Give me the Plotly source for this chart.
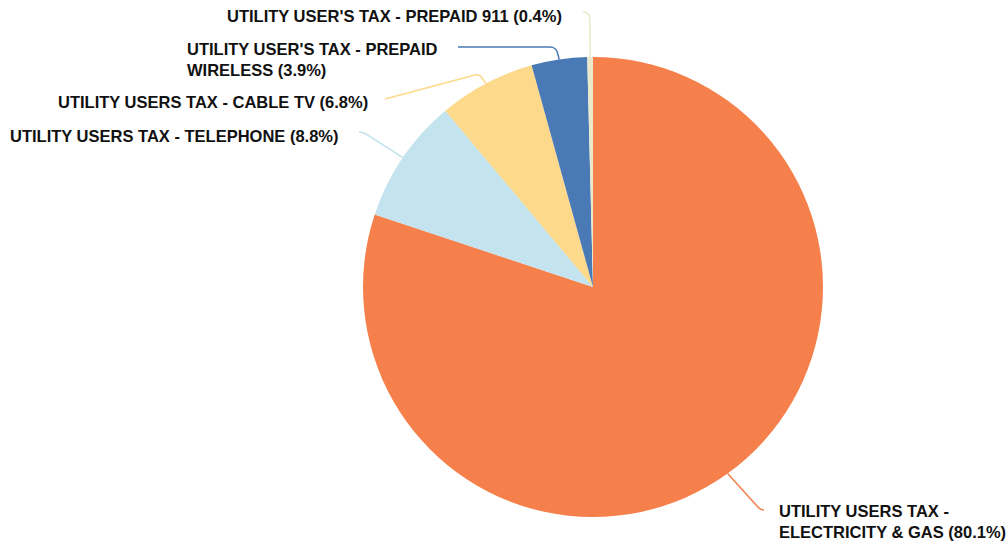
import math
import plotly.graph_objects as go

# Utility users tax revenue shares (%)
categories = [
    "UTILITY USERS TAX -<br>ELECTRICITY & GAS",
    "UTILITY USERS TAX - TELEPHONE",
    "UTILITY USERS TAX - CABLE TV",
    "UTILITY USER'S TAX - PREPAID<br>WIRELESS",
    "UTILITY USER'S TAX - PREPAID 911",
]
shares = [80.1, 8.8, 6.8, 3.9, 0.4]
colors = ["#F5804B", "#C3E3EE", "#FDD98B", "#4A7AB6", "#EAE9CB"]

W, H = 1008, 548
CX, CY, R = 593, 287, 230  # pie centre and radius in pixels

fig = go.Figure()
fig.add_trace(go.Pie(
    labels=categories,
    values=shares,
    sort=False,
    direction="clockwise",
    rotation=0,
    marker=dict(colors=colors, line=dict(width=0)),
    textinfo="none",
    hoverinfo="label+percent",
    showlegend=False,
    domain=dict(x=[(CX - R) / W, (CX + R) / W],
                y=[(H - CY - R) / H, (H - CY + R) / H]),
))

# Pixel-space overlay axes for the leader lines and labels
fig.update_layout(
    xaxis=dict(range=[0, W], visible=False, fixedrange=True),
    yaxis=dict(range=[H, 0], visible=False, fixedrange=True),
)

# Mid-angle edge point of every slice
total = sum(shares)
edges = []
cum = 0.0
for v in shares:
    mid = (cum + v / 2) / total * 2 * math.pi
    edges.append((CX + R * math.sin(mid), CY - R * math.cos(mid)))
    cum += v

# Leader line routes: (bend start, bend control, bend end, line end), label anchor
routes = [
    ((757, 506), (760, 510), (764, 510), None, (777, 521, "left")),
    ((366, 134), (362, 132), (359, 132), None, (341, 136, "right")),
    ((482, 78), (480, 74), (475, 75), (385, 99), (370, 102, "right")),
    ((557.5, 53), (556, 47), (550, 47), (458, 47), (440, 59, "right")),
    ((590, 20), (590, 12), (583, 12), None, (564, 16, "right")),
]

font = dict(family="Liberation Sans, Arial, sans-serif", size=16.5, color="#111111")

for (ex, ey), col, cat, v, (b0, bc, b1, tail, lab) in zip(
        edges, colors, categories, shares, routes):
    path = f"M {ex:.1f},{ey:.1f} L {b0[0]},{b0[1]} Q {bc[0]},{bc[1]} {b1[0]},{b1[1]}"
    if tail is not None:
        path += f" L {tail[0]},{tail[1]}"
    fig.add_shape(type="path", path=path, xref="x", yref="y",
                  line=dict(color=col, width=1.5))
    lx, ly, side = lab
    fig.add_annotation(
        x=lx, y=ly, xref="x", yref="y",
        text=f"<b>{cat} ({v:.1f}%)</b>",
        showarrow=False, font=font,
        xanchor="left" if side == "left" else "right",
        yanchor="middle", align="left",
    )

fig.update_layout(
    width=W, height=H,
    margin=dict(l=0, r=0, t=0, b=0),
    paper_bgcolor="white", plot_bgcolor="white",
)

fig.write_html("out.html")
